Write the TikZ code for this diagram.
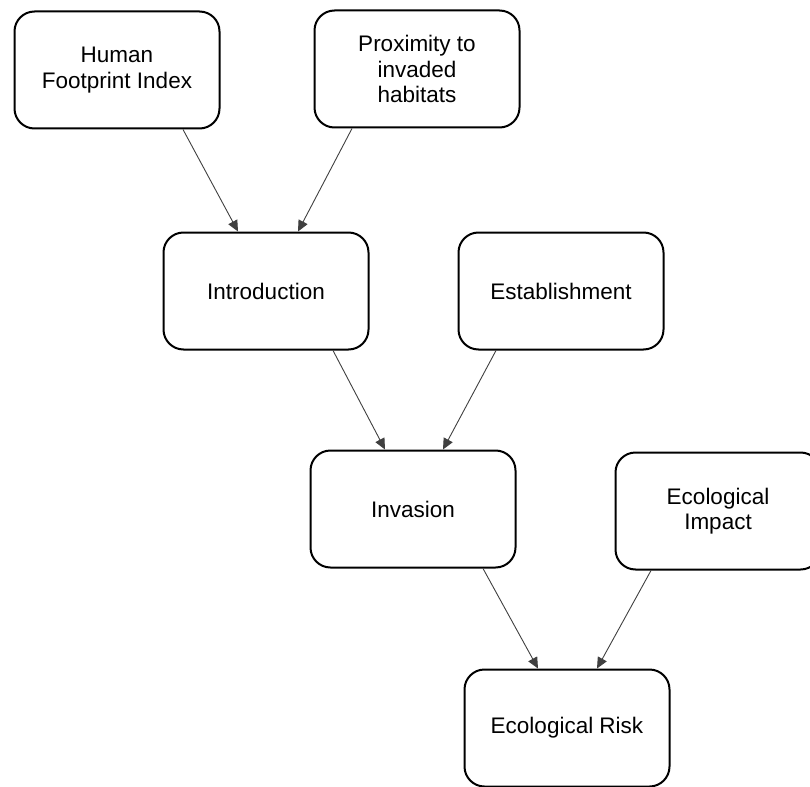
\documentclass[tikz,border=0pt]{standalone}
\usepackage{fontspec}
\setmainfont{Liberation Sans}
\usetikzlibrary{arrows.meta}

\begin{document}
\begin{tikzpicture}[x=1pt, y=-1pt, >={Triangle[length=11pt,width=10pt]}, auto]
\tikzstyle{box}=[draw, line width=2pt, rounded corners=20pt, minimum width=205pt, minimum height=117pt, align=center, font=\fontsize{22.5}{25.5}\selectfont]
\tikzstyle{link}=[->, draw=black!75, line width=0.9pt]
\useasboundingbox (0,0) rectangle (810,786);

\node[box] (hfi) at (117,70) {Human\\Footprint Index};
\node[box] (prox) at (417,69) {Proximity to\\invaded\\habitats};
\node[box] (intro) at (266,291) {Introduction};
\node[box] (estab) at (561,291) {Establishment};
\node[box] (inv) at (413,509) {Invasion};
\node[box] (impact) at (718,511) {Ecological\\Impact};
\node[box] (risk) at (567,728) {Ecological Risk};

\path
([xshift=66pt]hfi.south) edge[link] ([xshift=-28pt]intro.north)
([xshift=-65pt]prox.south) edge[link] ([xshift=32pt]intro.north)

([xshift=67pt]intro.south) edge[link] ([xshift=-28pt]inv.north)
([xshift=-65pt]estab.south) edge[link] ([xshift=30pt]inv.north)

([xshift=70pt]inv.south) edge[link] ([xshift=-29pt]risk.north)
([xshift=-67pt]impact.south) edge[link] ([xshift=30pt]risk.north);
\end{tikzpicture}
\end{document}
